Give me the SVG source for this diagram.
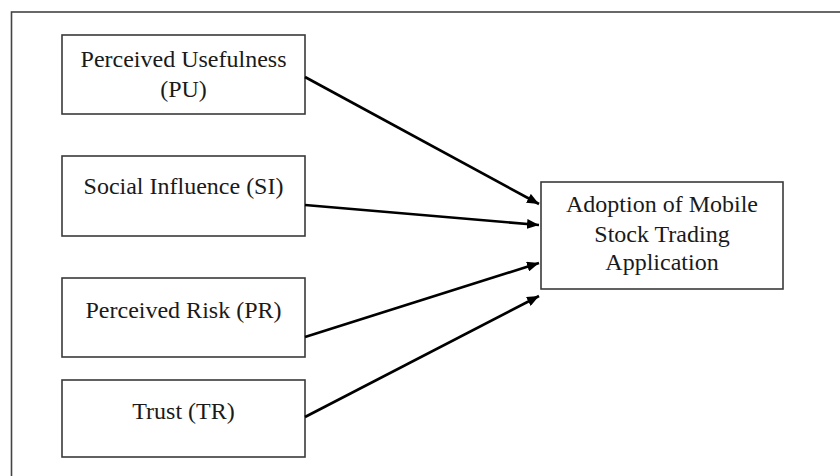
<svg xmlns="http://www.w3.org/2000/svg" width="840" height="476" viewBox="0 0 840 476">
<defs>
<marker id="ah" viewBox="0 0 12 10" refX="12" refY="5" markerWidth="12" markerHeight="10" markerUnits="userSpaceOnUse" orient="auto">
<path d="M0,0 L12,5 L0,10 Z" fill="#000"/>
</marker>
</defs>
<style>
.box{fill:#fff;stroke:#3a3a3a;stroke-width:1.6}
.t{font-family:"Liberation Serif","Times New Roman",serif;font-size:24px;fill:#1a1a1a;text-anchor:middle}
.c{stroke:#000;stroke-width:2.6;fill:none;marker-end:url(#ah)}
</style>
<rect x="0" y="0" width="840" height="476" fill="#fff"/>
<rect id="frame" x="11.5" y="12" width="840" height="480" fill="none" stroke="#444" stroke-width="1.6"/>
<g id="pu"><rect class="box" x="62" y="35" width="243" height="79"/><text class="t" x="183.5" y="66.5">Perceived Usefulness</text><text class="t" x="183.5" y="96.5">(PU)</text></g>
<g id="si"><rect class="box" x="62" y="156" width="243" height="80"/><text class="t" x="183.5" y="194">Social Influence (SI)</text></g>
<g id="pr"><rect class="box" x="62" y="278" width="243" height="79"/><text class="t" x="183.5" y="318">Perceived Risk (PR)</text></g>
<g id="tr"><rect class="box" x="62" y="380" width="243" height="77"/><text class="t" x="183.5" y="419">Trust (TR)</text></g>
<g id="adopt"><rect class="box" x="541" y="182" width="242" height="107"/><text class="t" x="662" y="211.5">Adoption of Mobile</text><text class="t" x="662" y="241.5">Stock Trading</text><text class="t" x="662" y="270">Application</text></g>
<g id="connectors">
<line class="c" x1="305" y1="77" x2="539" y2="204"/>
<line class="c" x1="305" y1="205" x2="539" y2="225"/>
<line class="c" x1="305" y1="337" x2="539" y2="263"/>
<line class="c" x1="305" y1="417" x2="539" y2="296"/>
</g>
</svg>
